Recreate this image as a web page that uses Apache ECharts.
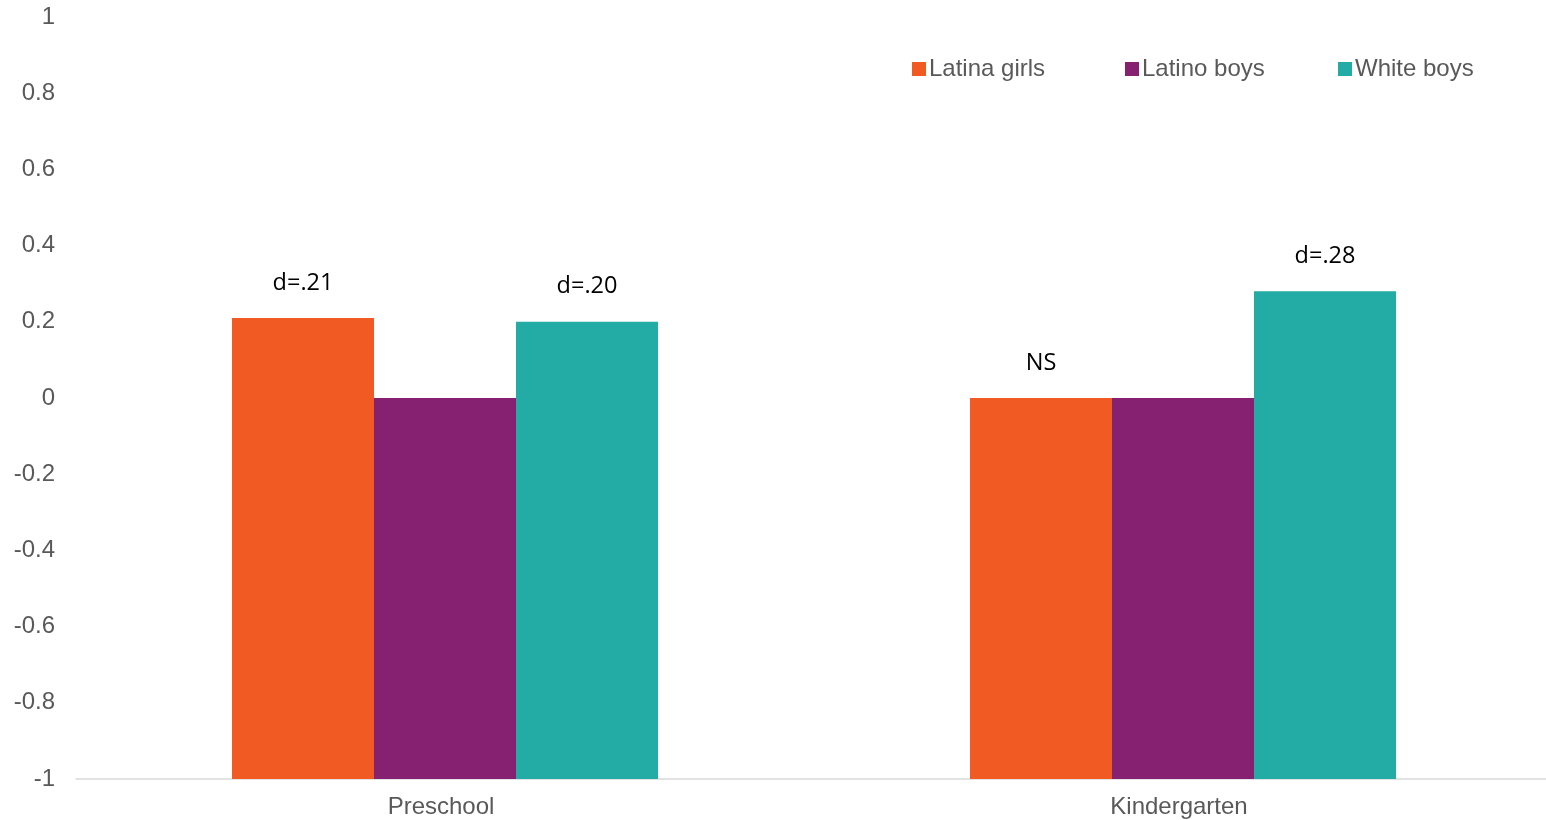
<!DOCTYPE html>
<html>
<head>
<meta charset="utf-8">
<script src="https://cdn.jsdelivr.net/npm/echarts@6/dist/echarts.min.js"></script>
<style>html,body{margin:0;padding:0;background:#fff;}#c{width:1546px;height:820px;}</style>
</head>
<body>
<div id="c"></div>
<script>
var categories = ["Preschool", "Kindergarten"];
var seriesNames = ["Latina girls", "Latino boys", "White boys"];
var latinaGirls = [0.21, 0];
var latinoBoys = [0, 0];
var whiteBoys = [0.20, 0.28];
var latinaGirlsLabels = ["d=.21", "NS"];
var latinoBoysLabels = ["", ""];
var whiteBoysLabels = ["d=.20", "d=.28"];
var yTicks = { min: -1, max: 1, interval: 0.2 };

var colors = ["#F15A22", "#862070", "#23ABA6"];
var allValues = [latinaGirls, latinoBoys, whiteBoys];
var allLabels = [latinaGirlsLabels, latinoBoysLabels, whiteBoysLabels];
var legendLefts = [907, 1120, 1333];

function makeSeries(si) {
  return {
    name: seriesNames[si],
    type: 'custom',
    itemStyle: { color: colors[si] },
    encode: { x: 0, y: 1 },
    data: categories.map(function (c, i) { return [i, allValues[si][i]]; }),
    renderItem: function (params, api) {
      var ci = api.value(0);
      var v = api.value(1);
      var band = api.size([1, 0])[0];
      var barW = band * 0.1924;
      var center = api.coord([ci, 0])[0];
      var x0 = center + (si - 1) * barW - barW / 2;
      var top = api.coord([ci, v])[1];
      var bottom = api.coord([ci, yTicks.min])[1];
      var lbl = allLabels[si][ci];
      var children = [{
        type: 'rect',
        shape: { x: x0, y: top, width: barW, height: bottom - top },
        style: { fill: api.visual('color') }
      }];
      if (lbl) {
        children.push({
          type: 'text',
          style: {
            text: lbl, x: x0 + barW / 2, y: top - 35,
            align: 'center', verticalAlign: 'middle',
            fill: '#000', font: '23.5px "Open Sans", sans-serif'
          }
        });
      }
      return { type: 'group', children: children };
    }
  };
}

var chart = echarts.init(document.getElementById('c'), null, { renderer: 'canvas' });
chart.setOption({
  animation: false,
  backgroundColor: '#fff',
  color: colors,
  textStyle: { fontFamily: '"Liberation Sans", Arial, sans-serif' },
  legend: seriesNames.map(function (n, i) {
    return {
      data: [n],
      left: legendLefts[i], top: 52,
      icon: 'rect', itemWidth: 14, itemHeight: 14,
      textStyle: { fontSize: 24, color: '#595959', padding: [0, 0, 0, -2] }
    };
  }),
  grid: { left: 76, width: 1476, top: 17, bottom: 41, containLabel: false, outerBoundsMode: 'none' },
  xAxis: {
    type: 'category', data: categories,
    axisLine: { onZero: false, lineStyle: { color: '#d9d9d9', width: 1.5 } },
    axisTick: { show: false },
    axisLabel: { fontSize: 24, color: '#595959', margin: 16, padding: [0, 8, 0, 0] }
  },
  yAxis: {
    type: 'value', min: yTicks.min, max: yTicks.max, interval: yTicks.interval,
    axisLine: { show: false }, axisTick: { show: false },
    splitLine: { show: false },
    axisLabel: { fontSize: 24, color: '#595959', margin: 21 }
  },
  series: [makeSeries(0), makeSeries(1), makeSeries(2)]
});
</script>
</body>
</html>
